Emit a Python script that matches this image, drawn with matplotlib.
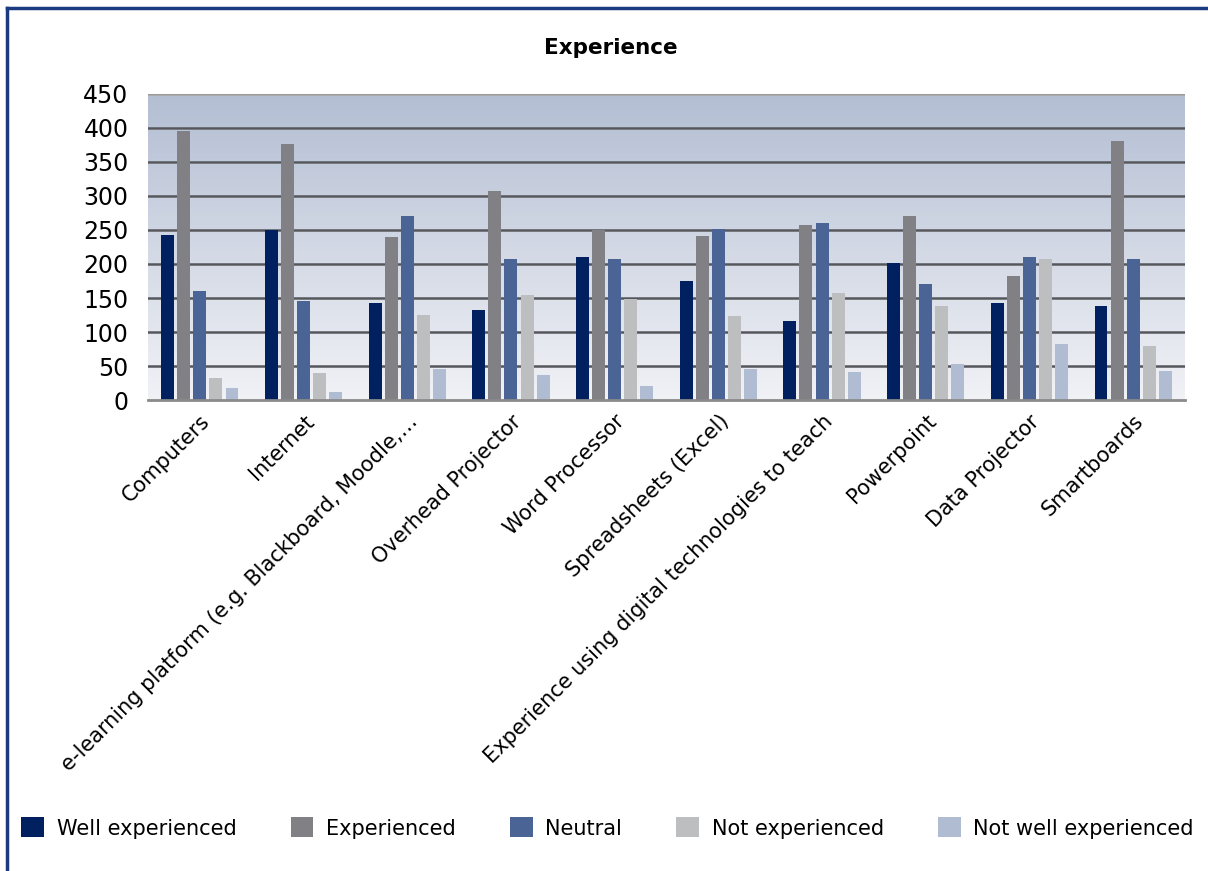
import numpy as np
import matplotlib
matplotlib.use("Agg")
import matplotlib.pyplot as plt
from matplotlib.colors import LinearSegmentedColormap
from matplotlib.patches import Patch
from matplotlib.lines import Line2D

# Data
categories = ["Computers", "Internet", "e-learning platform (e.g. Blackboard, Moodle,\u2026",
              "Overhead Projector", "Word Processor", "Spreadsheets (Excel)",
              "Experience using digital technologies to teach", "Powerpoint",
              "Data Projector", "Smartboards"]
series_names = ["Well experienced", "Experienced", "Neutral", "Not experienced", "Not well experienced"]
well_experienced = [242, 250, 143, 133, 211, 175, 116, 201, 142, 138]
experienced = [395, 376, 240, 308, 250, 241, 257, 270, 182, 381]
neutral = [161, 146, 271, 208, 208, 252, 260, 170, 210, 207]
not_experienced = [32, 39, 125, 155, 149, 124, 157, 138, 207, 79]
not_well_experienced = [17, 12, 45, 37, 20, 45, 41, 53, 82, 43]
y_ticks = [0, 50, 100, 150, 200, 250, 300, 350, 400, 450]

colors = ["#002060", "#808085", "#4b6496", "#bdbebf", "#b0bcd2"]
series = [well_experienced, experienced, neutral, not_experienced, not_well_experienced]

plt.rcParams['font.family'] = ['DejaVu Sans']

fig = plt.figure(figsize=(12.08, 8.71), dpi=100)
ax = fig.add_axes([148/1208, 1-400/871, (1185-148)/1208, (400-94)/871])

# gradient background
cmap = LinearSegmentedColormap.from_list("bg", ["#f1f2f6", "#b3bed3"])
grad = np.linspace(0, 1, 256).reshape(-1, 1)
ax.imshow(grad, extent=(-0.5, 9.5, 0, 450), aspect='auto', cmap=cmap,
          origin='lower', zorder=0)

# gridlines
for t in y_ticks[1:]:
    ax.axhline(t - 1.2, color="#e8eaf0", lw=1.2, zorder=1)
    ax.axhline(t, color="#55575c" if t < 450 else "#9a9a9a", lw=1.8, zorder=1)

x = np.arange(len(categories))
w = 0.125
step = 0.155
for i, (vals, c) in enumerate(zip(series, colors)):
    ax.bar(x + (i - 2) * step, vals, width=w, color=c, zorder=2)

ax.set_xlim(-0.5, 9.5)
ax.set_ylim(0, 450)
ax.set_yticks(y_ticks)
ax.set_yticklabels([str(t) for t in y_ticks], fontsize=17)
ax.tick_params(axis='y', length=0, pad=14)
ax.set_xticks(x)
ax.set_xticklabels(categories, rotation=45, ha='right', rotation_mode='anchor', fontsize=15)
ax.tick_params(axis='x', length=0, pad=8)
for s in ["left", "right", "top"]:
    ax.spines[s].set_visible(False)
ax.spines["bottom"].set_color("#8a8a8a")
ax.spines["bottom"].set_linewidth(2)

fig.text(0.506, 1-48/871, "Experience", ha='center', va='center', fontsize=15.5, fontweight='bold')

handles = [Patch(facecolor=c, edgecolor='none') for c in colors]
fig.legend(handles, series_names, loc='center', bbox_to_anchor=(0.503, 1-828/871), ncol=5,
           frameon=False, fontsize=15, handlelength=1.1, handleheight=1.1,
           handletextpad=0.6, columnspacing=2.6)

# outer frame (top and left edges)
fig.add_artist(Line2D([7/1208, 1], [1-8/871, 1-8/871], color="#1c3a80", lw=2.5))
fig.add_artist(Line2D([7/1208, 7/1208], [0, 1-8/871], color="#1c3a80", lw=2.5))

fig.savefig("out.png", dpi=100)
